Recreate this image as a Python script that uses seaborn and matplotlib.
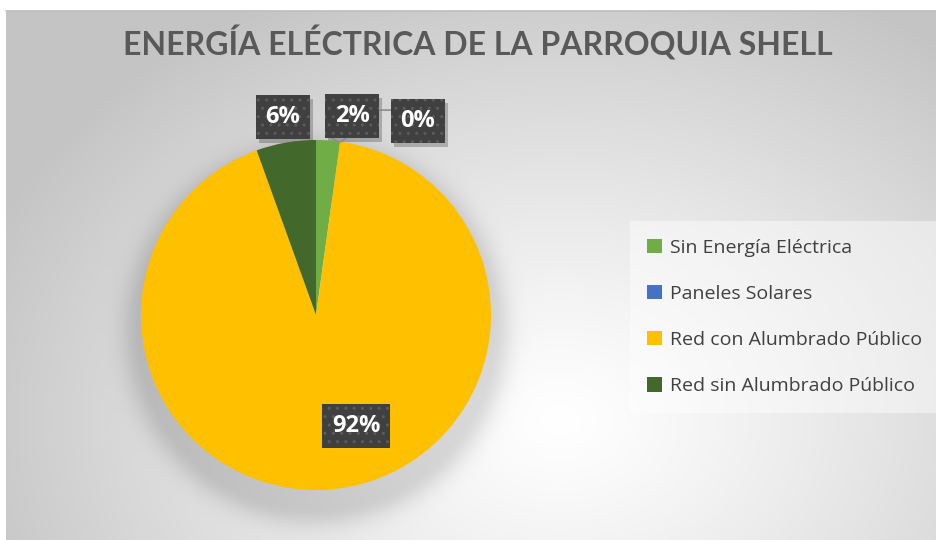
import numpy as np
import matplotlib.pyplot as plt
import matplotlib.patches as mpatches
import seaborn as sns

# Datos del grafico
categories = ['Sin Energía Eléctrica', 'Paneles Solares',
              'Red con Alumbrado Público', 'Red sin Alumbrado Público']
shares = [2.2, 0.0, 92.3, 5.5]
pct_labels = ['2%', '0%', '92%', '6%']
colors = ['#70ad47', '#4472c4', '#ffc000', '#43682b']
title = 'ENERGÍA ELÉCTRICA DE LA PARROQUIA SHELL'

# posiciones de las etiquetas (coordenadas del eje del pastel)
label_pos = [(0.206, 1.137), (0.583, 1.109), (0.229, -0.634), (-0.189, 1.131)]

sns.set_theme(style='white')
plt.rcParams['font.family'] = ['Open Sans', 'DejaVu Sans']

W, H = 936, 540
fig = plt.figure(figsize=(W / 100, H / 100), dpi=100)

# fondo con degradado radial + sombra del pastel
yy, xx = np.mgrid[0:H, 0:W]
dist = np.hypot(xx - 560, (yy - 420) * 1.3)
shade = 1 - 0.23 * np.clip(dist / 620, 0, 1) ** 1.2
d = np.hypot(xx - 316, yy - 332) - 175
shade -= 0.13 * np.exp(-(np.clip(d, 0, None) / 20) ** 2) * (d > -40)
shade[:11, :] = 1.0
shade[:, :6] = 1.0
rgb = np.dstack([shade, shade, shade])

bg = fig.add_axes([0, 0, 1, 1])
bg.imshow(rgb, extent=(0, W, H, 0), aspect='auto', interpolation='bilinear')
bg.plot([6, W], [11, 11], color='#bdbdbd', lw=1.2)
bg.set_xlim(0, W)
bg.set_ylim(H, 0)
bg.axis('off')

fig.text(478 / W, 1 - 43 / H, title, ha='center', va='center',
         fontsize=23, fontweight='bold', color='#595959', family=['Lato', 'DejaVu Sans'])

# pastel
ax = fig.add_axes([141 / W, 50 / H, 350 / W, 350 / H])
wedges, _ = ax.pie(shares, colors=colors, startangle=90, counterclock=False,
                   wedgeprops=dict(linewidth=0))
ax.set_xlim(-1, 1)
ax.set_ylim(-1, 1)
ax.axis('off')

# lineas guia
ax.plot([0.446, 0.354, 0.143], [1.171, 1.171, 0.989], color='#8c8c8c', lw=1.2, clip_on=False)
ax.plot([0.08, 0.126], [1.017, 0.989], color='#8c8c8c', lw=1.2, clip_on=False)

texts = []
for (x, y), lab in zip(label_pos, pct_labels):
    t = ax.text(x, y, lab, ha='center', va='center', fontsize=17,
                fontweight='bold', color='white', zorder=5,
                bbox=dict(boxstyle='square,pad=0.42', facecolor='#404040',
                          edgecolor='#5c5c5c', linewidth=0, hatch='..'))
    texts.append(t)

# sombra de las etiquetas
fig.canvas.draw()
for t in texts:
    bb = t.get_bbox_patch().get_window_extent()
    fig.patches.append(mpatches.Rectangle((bb.x0 + 3, bb.y0 - 4), bb.width, bb.height,
                                          transform=None, facecolor='black', alpha=0.22,
                                          linewidth=0, zorder=1))
ax.set_zorder(2)

leg = fig.legend(wedges, categories, loc='center left',
                 bbox_to_anchor=(620 / W, 1 - 317 / H), frameon=True,
                 facecolor='white', framealpha=0.45, edgecolor='none',
                 fancybox=False, fontsize=14, labelspacing=1.45,
                 handlelength=0.75, handleheight=0.75, handletextpad=0.4,
                 borderpad=0.9, labelcolor='#404040')

plt.savefig('out.png', dpi=100)
